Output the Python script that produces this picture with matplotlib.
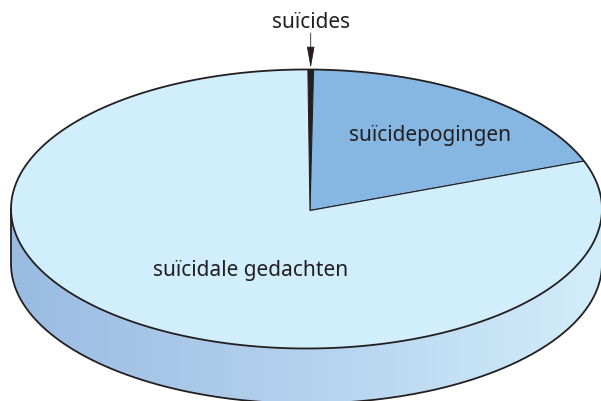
import numpy as np
import matplotlib
matplotlib.use('Agg')
import matplotlib.pyplot as plt
from matplotlib.colors import LinearSegmentedColormap
from matplotlib.patches import PathPatch
from matplotlib.path import Path

plt.rcParams['font.family'] = ['Noto Sans', 'DejaVu Sans']

labels = ['suïcides', 'suïcidepogingen', 'suïcidale gedachten']
values = [0.3, 19.0, 80.7]
colors = ['#231f20', '#86b7e3', '#d0eefb']
ink = '#231f20'

# top disc and thickness, in pixels of the picture
cx, cy, a, b = 306.5, 210, 295.5, 139.5
depth = 55
apex_x, apex_y = 310, 211.5
pie_a, pie_b = 330, 330 * b / a

fig = plt.figure(figsize=(6.01, 4.02), dpi=100)

# the pie sits in its own axes, squashed by letting the aspect go free
pie_ax = fig.add_axes([0, 0, 1, 1], zorder=0)
wedges, _ = pie_ax.pie(values, colors=colors, startangle=90.4, counterclock=False,
                       wedgeprops={'edgecolor': ink, 'linewidth': 0.8})
pie_ax.set_aspect('auto')
pie_ax.set_xlim((0 - apex_x) / pie_a, (601 - apex_x) / pie_a)
pie_ax.set_ylim((apex_y - 402) / pie_b, apex_y / pie_b)
pie_ax.axis('off')

ax = fig.add_axes([0, 0, 1, 1], zorder=1)
ax.patch.set_alpha(0)
ax.axis('off')
ax.set_xlim(0, 601)
ax.set_ylim(402, 0)

t = np.linspace(0, 2 * np.pi, 400)
top_path = Path(np.column_stack([cx + a * np.cos(t), cy + b * np.sin(t)]), closed=True)
ax.add_patch(PathPatch(top_path, facecolor='none', edgecolor=ink, linewidth=1.3, zorder=5))
# pie wedges come with clip_on=False
for w in wedges:
    w.set_clip_on(True)
    w.set_clip_path(top_path, transform=ax.transData)

# side of the disc, gradient clipped to the band under the top ellipse
t = np.linspace(np.pi, 0, 200)
upper_x = cx + a * np.cos(t)
upper_y = cy + b * np.sin(t)
lower_y = upper_y + depth
verts = np.concatenate([np.column_stack([upper_x, upper_y]),
                        np.column_stack([upper_x[::-1], lower_y[::-1]])])
band = PathPatch(Path(np.vstack([verts, verts[0]]), closed=True), facecolor='none', edgecolor='none')
ax.add_patch(band)
side_cmap = LinearSegmentedColormap.from_list('side', ['#9abbe2', '#b4d2ee', '#d2edfa'])
img = ax.imshow(np.linspace(0, 1, 256).reshape(1, -1), cmap=side_cmap, aspect='auto',
                extent=(cx - a, cx + a, cy + b + depth, cy), zorder=1)
img.set_clip_path(band)

ax.plot(upper_x, lower_y, color=ink, linewidth=1.3, zorder=5)
ax.plot([cx - a, cx - a], [cy, cy + depth], color=ink, linewidth=1.3, zorder=5)
ax.plot([cx + a, cx + a], [cy, cy + depth], color=ink, linewidth=1.3, zorder=5)

ax.set_xlim(0, 601)
ax.set_ylim(402, 0)

ax.text(311, 22, labels[0], fontsize=15, color=ink, ha='center', va='center')
ax.text(430, 136, labels[1], fontsize=15, color=ink, ha='center', va='center')
ax.text(250.5, 271, labels[2], fontsize=15, color=ink, ha='center', va='center')

ax.annotate('', xy=(310.7, 69), xytext=(310.7, 34),
            arrowprops=dict(arrowstyle='-|>,head_length=0.95,head_width=0.17', color=ink,
                            linewidth=0.6, shrinkA=0, shrinkB=0, mutation_scale=14))

fig.savefig('out.png', dpi=100)
